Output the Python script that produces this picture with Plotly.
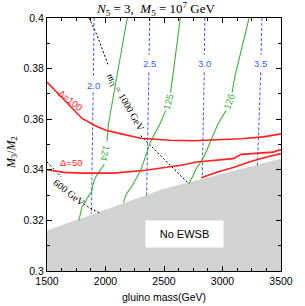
import plotly.graph_objects as go

# ---------------- data ----------------
x_range = [1500, 3500]
y_range = [0.30, 0.40]
x_ticks = [1500, 2000, 2500, 3000, 3500]
x_tick_text = ["1500", "2000", "2500", "3000", "3500"]
y_ticks = [0.30, 0.32, 0.34, 0.36, 0.38, 0.40]
y_tick_text = ["0.3", "0.32", "0.34", "0.36", "0.38", "0.4"]

# No-EWSB boundary (region below is shaded)
no_ewsb_x = [1500, 2500, 3500]
no_ewsb_y = [0.3160, 0.3325, 0.3444]

# squark-mass contours (TeV), blue dashed
sq20_x = [1903, 1896, None, 1894, 1880]
sq20_y = [0.400, 0.3762, None, 0.3706, 0.3227]
sq25_x = [2378, 2373, None, 2371, 2351]
sq25_y = [0.400, 0.3855, None, 0.3785, 0.3290]
sq30_x = [2849, 2845, None, 2844, 2827]
sq30_y = [0.400, 0.3855, None, 0.3785, 0.3367]
sq35_x = [3337, 3330, None, 3327, 3298]
sq35_y = [0.400, 0.3855, None, 0.3785, 0.3414]

# Higgs-mass contours (GeV), green
h124_x = [2186, 2112, 2058, 2025, 2012, None, 1990, 1950, 1921, 1900, 1880, 1860, 1827, 1799, 1786, 1772]
h124_y = [0.400, 0.3806, 0.3675, 0.3580, 0.3512, None, 0.3422, 0.3395, 0.3375, 0.3355, 0.3312, 0.3300, 0.3273, 0.3253, 0.3227, 0.3200]
h125_x = [2640, 2602, 2574, 2556, None, 2515, 2466, 2384, 2357, 2302, 2221, 2180, 2153]
h125_y = [0.400, 0.3873, 0.3767, 0.3705, None, 0.3635, 0.3582, 0.3510, 0.3470, 0.3398, 0.3332, 0.3306, 0.3270]
h126_x = [3227, 3160, 3105, 3082, None, 3030, 2962, 2901, 2847, 2805, 2770, 2740, 2711]
h126_y = [0.400, 0.3872, 0.3767, 0.3705, None, 0.3635, 0.3582, 0.3516, 0.3457, 0.3425, 0.3400, 0.3370, 0.3345]

# stop-mass contours, black dashed
st1000_x = [1860, 1925, 1976, 2025, None, 2300, 2400, 2547, 2711]
st1000_y = [0.400, 0.3935, 0.3872, 0.3810, None, 0.3535, 0.3488, 0.3418, 0.3345]
st600_x = [1500, 1560, 1622, None, 1813, 1870, 1962]
st600_y = [0.3431, 0.3400, 0.3372, None, 0.3266, 0.3248, 0.3227]

# fine-tuning contours, red
d100_x = [1500, 1582, 1663, 1740, 1800, 1908, 2003, 2125, 2300, 2550, 2750, 2950, 3160, 3350, 3500]
d100_y = [0.3747, 0.3708, 0.3668, 0.3630, 0.3603, 0.3575, 0.3556, 0.3543, 0.3525, 0.3517, 0.3515, 0.3519, 0.3523, 0.3530, 0.3542]
d50a_x = [1500, 1650, 1800, 2070, 2343, 2507, 2643, 2779, 2915, 3092, 3160, 3296, 3431, 3500]
d50a_y = [0.3400, 0.3390, 0.3387, 0.3387, 0.3398, 0.3410, 0.3418, 0.3431, 0.3437, 0.3444, 0.3461, 0.3466, 0.3470, 0.3480]
d50b_x = [2819, 2955, 3092, 3227, 3378, 3500]
d50b_y = [0.3369, 0.3391, 0.3409, 0.3431, 0.3451, 0.3464]

# contour labels
lab_text = ["2.0", "2.5", "3.0", "3.5", "124", "125", "126",
            "<i>m</i><sub><i>t̃</i>1</sub> = 1000 GeV", "600 GeV", "Δ=100", "Δ=50"]
lab_x = [1894, 2372, 2845, 3328, 2001, 2537, 3056, 2168, 1690, 1700, 1707]
lab_y = [0.3734, 0.3820, 0.3820, 0.3820, 0.3466, 0.3670, 0.3670, 0.3668, 0.3311, 0.3672, 0.3427]
lab_angle = [0, 0, 0, 0, 103, -75, -71, 60, 38, 38, 0]
lab_color = ["#3b5bff"] * 4 + ["#3cb43c"] * 3 + ["black", "black", "#ff2020", "#ff2020"]
lab_font = ["Liberation Sans"] * 7 + ["Liberation Serif"] * 2 + ["Liberation Sans"] * 2
lab_size = [9.5] * 7 + [10, 10, 9.5, 9.5]

# ---------------- figure ----------------
BLUE = "#3b5bff"
GREEN = "#3cb43c"
RED = "#ff2020"

fig = go.Figure()

fig.add_trace(go.Scatter(
    x=no_ewsb_x + [x_range[1], x_range[0]],
    y=no_ewsb_y + [y_range[0], y_range[0]],
    fill="toself", fillcolor="#d0d3d1", mode="lines",
    line=dict(width=0, color="#d0d3d1"), hoverinfo="skip"))

for xs, ys in [(sq20_x, sq20_y), (sq25_x, sq25_y), (sq30_x, sq30_y), (sq35_x, sq35_y)]:
    fig.add_trace(go.Scatter(x=xs, y=ys, mode="lines",
                             line=dict(color=BLUE, width=1, dash="3px,2px")))

for xs, ys in [(st1000_x, st1000_y), (st600_x, st600_y)]:
    fig.add_trace(go.Scatter(x=xs, y=ys, mode="lines",
                             line=dict(color="black", width=1, dash="2px,2px")))

for xs, ys in [(h124_x, h124_y), (h125_x, h125_y), (h126_x, h126_y)]:
    fig.add_trace(go.Scatter(x=xs, y=ys, mode="lines",
                             line=dict(color=GREEN, width=1.1)))

for xs, ys in [(d100_x, d100_y), (d50a_x, d50a_y), (d50b_x, d50b_y)]:
    fig.add_trace(go.Scatter(x=xs, y=ys, mode="lines",
                             line=dict(color=RED, width=1.6)))

annotations = []
for t, x, y, a, c, f, s in zip(lab_text, lab_x, lab_y, lab_angle, lab_color, lab_font, lab_size):
    annotations.append(dict(x=x, y=y, xref="x", yref="y", text=t, showarrow=False,
                            textangle=a, font=dict(family=f, size=s, color=c),
                            xanchor="center", yanchor="middle"))

annotations.append(dict(x=2676, y=0.3147, xref="x", yref="y", text="No EWSB",
                        showarrow=False, bgcolor="white", width=75, height=24,
                        font=dict(family="Liberation Sans", size=11, color="black")))

annotations.append(dict(x=0.467, y=1.034, xref="paper", yref="paper",
                        text="<i>N</i><sub>5</sub> = 3,  <i>M</i><sub>5</sub> = 10<sup>7</sup> GeV",
                        showarrow=False, xanchor="center", yanchor="middle",
                        font=dict(family="Liberation Serif", size=13, color="black")))
annotations.append(dict(x=0.5, y=-0.104, xref="paper", yref="paper",
                        text="gluino mass(GeV)", showarrow=False,
                        xanchor="center", yanchor="middle",
                        font=dict(family="Liberation Sans", size=10.5, color="black")))
annotations.append(dict(x=-0.150, y=0.47, xref="paper", yref="paper",
                        text="<i>M</i><sub>3</sub>/<i>M</i><sub>2</sub>", showarrow=False,
                        textangle=-90, xanchor="center", yanchor="middle",
                        font=dict(family="Liberation Serif", size=12, color="black")))

axis_common = dict(showgrid=False, zeroline=False, showline=True, linecolor="black",
                   linewidth=1, mirror="ticks", ticks="inside", ticklen=5,
                   tickcolor="black", tickwidth=1,
                   tickfont=dict(family="Liberation Sans", size=10.5, color="black"))

fig.update_layout(
    width=305, height=306, autosize=False,
    margin=dict(l=47, r=13, t=18, b=35),
    plot_bgcolor="white", paper_bgcolor="white",
    showlegend=False,
    xaxis=dict(range=x_range, tickvals=x_ticks, ticktext=x_tick_text,
               minor=dict(ticks="inside", ticklen=3, dtick=125, tickcolor="black"),
               **axis_common),
    yaxis=dict(range=y_range, tickvals=y_ticks, ticktext=y_tick_text,
               minor=dict(ticks="inside", ticklen=3, dtick=0.01, tickcolor="black"),
               **axis_common),
    annotations=annotations,
)

fig.write_html("out.html", config={"displayModeBar": False, "staticPlot": True},
               post_script="document.body.style.margin='0';document.body.style.overflow='hidden';")
